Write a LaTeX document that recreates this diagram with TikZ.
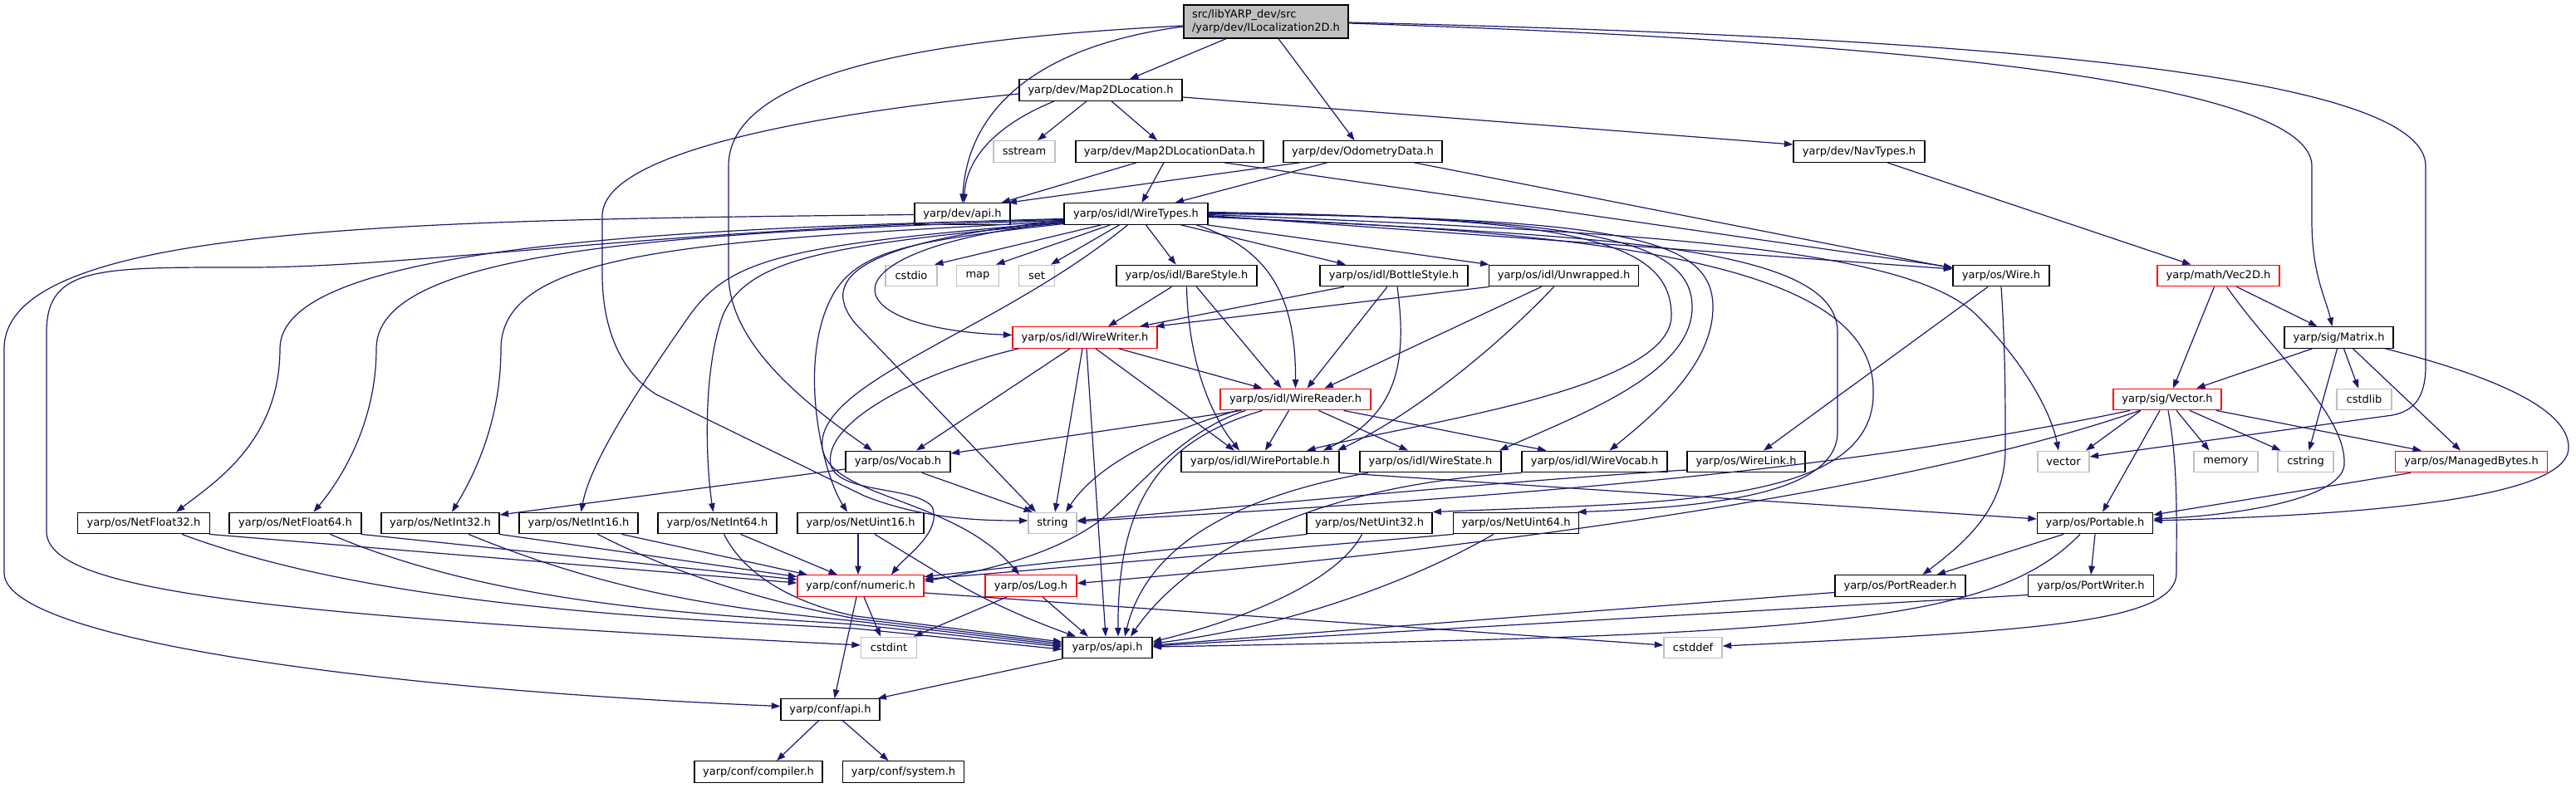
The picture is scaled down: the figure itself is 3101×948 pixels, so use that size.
\documentclass[tikz,border=0pt]{standalone}
\usepackage{fontspec}
\setmainfont{DejaVu Sans}
\usetikzlibrary{arrows.meta}
\definecolor{edgecol}{HTML}{191970}
\definecolor{sysgray}{HTML}{BFBFBF}
\tikzset{
  nd/.style={draw=black, fill=white, line width=1.3pt, minimum height=25.5pt, inner sep=0pt,
    font=\fontsize{13pt}{15.6pt}\selectfont, anchor=center},
  sys/.style={nd, draw=sysgray},
  trunc/.style={nd, draw=red},
  ed/.style={draw=edgecol, line width=1.2pt, -{Triangle[length=10.5pt,width=7.5pt]}},
}
\begin{document}
\begin{tikzpicture}[x=1pt,y=-1pt]
\useasboundingbox (0,0) rectangle (3101,948);
% ---------- nodes ----------
\node[nd, fill=sysgray, minimum width=198pt, minimum height=40pt, align=left] (main) at (1524,26) {src/libYARP\_dev/src\\/yarp/dev/ILocalization2D.h};
\node[nd, minimum width=196pt] (m2dl) at (1325,108.5) {yarp/dev/Map2DLocation.h};
\node[sys, minimum width=74pt] (sstream) at (1233,182.5) {sstream};
\node[nd, minimum width=226pt] (m2dld) at (1408,182.5) {yarp/dev/Map2DLocationData.h};
\node[nd, minimum width=191pt] (odom) at (1640.5,182.5) {yarp/dev/OdometryData.h};
\node[nd, minimum width=158pt] (navtypes) at (2238,182.5) {yarp/dev/NavTypes.h};
\node[nd, minimum width=115pt] (devapi) at (1158.5,257.5) {yarp/dev/api.h};
\node[nd, minimum width=173pt] (wiretypes) at (1367.5,257.5) {yarp/os/idl/WireTypes.h};
\node[sys, minimum width=62pt] (cstdio) at (1097,332) {cstdio};
\node[sys, minimum width=51pt] (map) at (1177,332) {map};
\node[sys, minimum width=43pt] (set) at (1248,332) {set};
\node[nd, minimum width=169pt] (barestyle) at (1428.5,332) {yarp/os/idl/BareStyle.h};
\node[nd, minimum width=178pt] (bottlestyle) at (1678,332) {yarp/os/idl/BottleStyle.h};
\node[nd, minimum width=180pt] (unwrapped) at (1882.5,332) {yarp/os/idl/Unwrapped.h};
\node[nd, minimum width=116pt] (wire) at (2409,332) {yarp/os/Wire.h};
\node[trunc, minimum width=147pt] (vec2d) at (2670.5,332) {yarp/math/Vec2D.h};
\node[trunc, minimum width=174pt] (wirewriter) at (1306,406.5) {yarp/os/idl/WireWriter.h};
\node[nd, minimum width=131pt] (matrix) at (2815.5,406.5) {yarp/sig/Matrix.h};
\node[trunc, minimum width=181pt] (wirereader) at (1559.5,481) {yarp/os/idl/WireReader.h};
\node[trunc, minimum width=130pt] (vector) at (2609,481) {yarp/sig/Vector.h};
\node[sys, minimum width=66pt] (cstdlib) at (2846,481) {cstdlib};
\node[nd, minimum width=126pt] (vocab) at (1081,556) {yarp/os/Vocab.h};
\node[nd, minimum width=190pt] (wireportable) at (1517,556) {yarp/os/idl/WirePortable.h};
\node[nd, minimum width=170pt] (wirestate) at (1722,556) {yarp/os/idl/WireState.h};
\node[nd, minimum width=175pt] (wirevocab) at (1919.5,556) {yarp/os/idl/WireVocab.h};
\node[nd, minimum width=142pt] (wirelink) at (2102,556) {yarp/os/WireLink.h};
\node[sys, minimum width=62pt] (vectorstd) at (2484,556) {vector};
\node[sys, minimum width=77pt] (memory) at (2679.5,556) {memory};
\node[sys, minimum width=67pt] (cstring) at (2775.5,556) {cstring};
\node[trunc, minimum width=183pt] (managedbytes) at (2975,556) {yarp/os/ManagedBytes.h};
\node[nd, minimum width=159pt] (netfloat32) at (173,630) {yarp/os/NetFloat32.h};
\node[nd, minimum width=159pt] (netfloat64) at (355.5,630) {yarp/os/NetFloat64.h};
\node[nd, minimum width=142pt] (netint32) at (530,630) {yarp/os/NetInt32.h};
\node[nd, minimum width=143pt] (netint16) at (696.5,630) {yarp/os/NetInt16.h};
\node[nd, minimum width=143pt] (netint64) at (863.5,630) {yarp/os/NetInt64.h};
\node[nd, minimum width=152pt] (netuint16) at (1036,630) {yarp/os/NetUint16.h};
\node[sys, minimum width=58pt] (string) at (1267,630) {string};
\node[nd, minimum width=151pt] (netuint32) at (1648.5,630) {yarp/os/NetUint32.h};
\node[nd, minimum width=151pt] (netuint64) at (1825,630) {yarp/os/NetUint64.h};
\node[nd, minimum width=139pt] (portable) at (2522,630) {yarp/os/Portable.h};
\node[trunc, minimum width=152pt] (numeric) at (1036,705.5) {yarp/conf/numeric.h};
\node[trunc, minimum width=110pt] (log) at (1241,705.5) {yarp/os/Log.h};
\node[nd, minimum width=157pt] (portreader) at (2287.5,705.5) {yarp/os/PortReader.h};
\node[nd, minimum width=151pt] (portwriter) at (2517,705.5) {yarp/os/PortWriter.h};
\node[sys, minimum width=67pt] (cstdint) at (1070,780) {cstdint};
\node[nd, minimum width=108pt] (osapi) at (1333,780) {yarp/os/api.h};
\node[sys, minimum width=70pt] (cstddef) at (2038,780) {cstddef};
\node[nd, minimum width=119pt] (confapi) at (999.5,854.5) {yarp/conf/api.h};
\node[nd, minimum width=154pt] (compiler) at (913,929.5) {yarp/conf/compiler.h};
\node[nd, minimum width=146pt] (system) at (1087.5,929.5) {yarp/conf/system.h};
% ---------- edges: main ----------
\draw[ed] ([xshift=-48pt]main.south) -- ([xshift=35pt]m2dl.north);
\draw[ed] ([xshift=15pt]main.south) -- ([xshift=-10pt]odom.north);
\draw[ed] ([yshift=-6pt]main.west) .. controls (1250,55) and (1165,130) .. (devapi.north);
\draw[ed] ([yshift=-5pt]main.west) .. controls (1150,45) and (877,80) .. (877,200) -- (877,330) .. controls (877,410) and (960,480) .. ([xshift=-31pt]vocab.north);
\draw[ed] ([yshift=-2pt]main.east) .. controls (2300,50) and (2783,100) .. (2783,200) -- (2783,267) .. controls (2783,330) and (2800,360) .. ([xshift=-8pt]matrix.north);
\draw[ed] ([yshift=-1pt]main.east) .. controls (2400,45) and (2920,90) .. (2920,200) -- (2920,440) .. controls (2920,480) and (2905,495) .. (2880,500) -- ([yshift=6pt]vectorstd.east);
% ---------- Map2DLocation ----------
\draw[ed] ([xshift=-17pt]m2dl.south) -- ([xshift=16pt]sstream.north);
\draw[ed] ([xshift=13pt]m2dl.south) -- ([xshift=-15pt]m2dld.north);
\draw[ed] ([xshift=-56pt]m2dl.south) .. controls (1200,150) and (1163,190) .. ([xshift=2pt]devapi.north);
\draw[ed] ([yshift=-8.5pt]m2dl.east) -- ([yshift=8.5pt]navtypes.west);
\draw[ed] ([yshift=-4.5pt]m2dl.west) .. controls (1000,135) and (725,180) .. (725,260) -- (725,330) .. controls (725,400) and (750,450) .. (790,475) -- (1040,597) .. controls (1110,625) and (1180,627) .. ([yshift=3pt]string.west);
% ---------- Map2DLocationData / Odometry / NavTypes ----------
\draw[ed] ([xshift=-40pt]m2dld.south) -- ([xshift=47pt]devapi.north);
\draw[ed] ([xshift=-7pt]m2dld.south) -- ([xshift=7pt]wiretypes.north);
\draw[ed] ([xshift=66pt]m2dld.south) -- ([yshift=10pt]wire.west);
\draw[ed] ([xshift=-76pt]odom.south) -- ([xshift=55pt]devapi.north);
\draw[ed] ([xshift=-43pt]odom.south) -- ([xshift=47pt]wiretypes.north);
\draw[ed] ([xshift=62pt]odom.south) -- ([yshift=9pt]wire.west);
\draw[ed] ([xshift=34pt]navtypes.south) -- ([xshift=-33pt]vec2d.north);
% ---------- Vec2D / Matrix / Vector ----------
\draw[ed] ([xshift=-5pt]vec2d.south) -- ([xshift=7pt]vector.north);
\draw[ed] ([xshift=22pt]vec2d.south) -- ([xshift=-26pt]matrix.north);
\draw[ed] ([xshift=10pt]vec2d.south) .. controls (2740,430) and (2825,500) .. (2822,560) .. controls (2818,600) and (2700,620) .. ([yshift=5pt]portable.east);
\draw[ed] ([xshift=-32pt]matrix.south) -- ([xshift=35pt]vector.north);
\draw[ed] ([xshift=6pt]matrix.south) -- ([xshift=-7pt]cstdlib.north);
\draw[ed] ([xshift=-2pt]matrix.south) -- ([xshift=4pt]cstring.north);
\draw[ed] ([xshift=17pt]matrix.south) -- ([xshift=-13pt]managedbytes.north);
\draw[ed] ([xshift=56pt]matrix.south) .. controls (2990,450) and (3094,490) .. (3092,540) .. controls (3090,600) and (2850,620) .. ([yshift=3pt]portable.east);
\draw[ed] ([xshift=-32pt]vector.south) -- ([xshift=27pt]vectorstd.north);
\draw[ed] ([xshift=11pt]vector.south) -- ([xshift=-20pt]memory.north);
\draw[ed] ([xshift=27pt]vector.south) -- ([xshift=-30pt]cstring.north);
\draw[ed] ([xshift=59pt]vector.south) -- ([xshift=-60pt]managedbytes.north);
\draw[ed] ([xshift=-9pt]vector.south) -- ([xshift=9pt]portable.north);
\draw[ed] ([xshift=1pt]vector.south) .. controls (2622,560) and (2620,620) .. (2620,690) .. controls (2620,750) and (2450,760) .. ([yshift=2pt]cstddef.east);
\draw[ed] ([xshift=-45pt]vector.south) .. controls (2250,560) and (1900,595) .. ([yshift=2pt]string.east);
\draw[ed] ([xshift=-33pt]vector.south) .. controls (2300,590) and (1800,660) .. ([yshift=3pt]log.east);
\draw[ed] ([xshift=-73pt]managedbytes.south) -- ([yshift=10pt]portable.east);
% ---------- Wire / WireLink ----------
\draw[ed] ([xshift=-16pt]wire.south) -- ([xshift=21pt]wirelink.north);
\draw[ed] (wire.south) .. controls (2414,420) and (2414,480) .. (2414,540) .. controls (2414,610) and (2370,650) .. ([xshift=27pt]portreader.north);
\draw[ed] ([yshift=-10pt]wirelink.west) .. controls (1800,580) and (1500,610) .. ([yshift=3pt]string.east);
% ---------- WireState / WireVocab / WirePortable ----------
\draw[ed] ([xshift=-75pt]wirestate.south) .. controls (1480,600) and (1380,660) .. ([xshift=21pt]osapi.north);
\draw[ed] ([xshift=-88pt]wirevocab.south) .. controls (1560,585) and (1420,680) .. ([xshift=28pt]osapi.north);
\draw[ed] ([xshift=95pt]wireportable.south) -- ([yshift=5pt]portable.west);
% ---------- WireReader ----------
\draw[ed] ([xshift=-40pt]wirereader.south) .. controls (1400,530) and (1345,600) .. ([xshift=13pt]osapi.north);
\draw[ed] ([xshift=-65pt]wirereader.south) -- ([yshift=10pt]vocab.east);
\draw[ed] ([xshift=-70pt]wirereader.south) .. controls (1400,520) and (1320,560) .. ([xshift=16pt]string.north);
\draw[ed] ([xshift=-60pt]wirereader.south) .. controls (1420,520) and (1370,590) .. (1320,630) .. controls (1270,665) and (1200,685) .. ([yshift=5.5pt]numeric.east);
\draw[ed] ([xshift=-8pt]wirereader.south) -- ([xshift=6pt]wireportable.north);
\draw[ed] ([xshift=28pt]wirereader.south) -- ([xshift=-27pt]wirestate.north);
\draw[ed] ([xshift=58pt]wirereader.south) -- ([xshift=-58pt]wirevocab.north);
% ---------- WireWriter ----------
\draw[ed] ([xshift=-18pt]wirewriter.south) -- ([xshift=22pt]vocab.north);
\draw[ed] ([xshift=-3pt]wirewriter.south) -- ([xshift=3pt]string.north);
\draw[ed] ([xshift=2pt]wirewriter.south) -- ([xshift=-2pt]osapi.north);
\draw[ed] ([xshift=13pt]wirewriter.south) -- ([xshift=-31pt]wireportable.north);
\draw[ed] ([xshift=41pt]wirewriter.south) -- ([xshift=-40pt]wirereader.north);
\draw[ed] ([xshift=-80pt]wirewriter.south) .. controls (1100,450) and (990,510) .. (1000,560) .. controls (1010,595) and (1100,585) .. (1122,610) .. controls (1135,640) and (1090,670) .. ([xshift=37pt]numeric.north);
% ---------- WireTypes ----------
\draw[ed] ([xshift=-42pt]wiretypes.south) -- ([xshift=28pt]cstdio.north);
\draw[ed] ([xshift=-31pt]wiretypes.south) -- ([xshift=22pt]map.north);
\draw[ed] ([xshift=-20pt]wiretypes.south) -- ([xshift=17pt]set.north);
\draw[ed] ([xshift=12pt]wiretypes.south) -- ([xshift=-13pt]barestyle.north);
\draw[ed] ([xshift=54pt]wiretypes.south) -- ([xshift=-58pt]bottlestyle.north);
\draw[ed] ([xshift=86pt]wiretypes.south) -- ([xshift=-90pt]unwrapped.north);
\draw[ed] ([yshift=-10pt]wiretypes.west) .. controls (980,300) and (1000,395) .. ([yshift=3pt]wirewriter.west);
\draw[ed] ([xshift=73pt]wiretypes.south) .. controls (1530,300) and (1560,360) .. (wirereader.north);
\draw[ed] ([yshift=-8pt]wiretypes.west) .. controls (1050,290) and (980,330) .. (1030,390) -- ([xshift=-20pt]string.north);
\draw[ed] ([yshift=-6pt]wiretypes.west) .. controls (800,275) and (500,322) .. (300,322) .. controls (120,322) and (56,320) .. (56,400) -- (56,640) .. controls (56,710) and (300,740) .. ([yshift=3pt]cstdint.west);
\draw[ed] ([yshift=-7pt]wiretypes.west) .. controls (700,275) and (337,310) .. (337,420) .. controls (337,530) and (260,580) .. ([xshift=39pt]netfloat32.north);
\draw[ed] ([yshift=-8pt]wiretypes.west) .. controls (750,280) and (453,310) .. (453,420) .. controls (453,520) and (400,590) .. ([xshift=22pt]netfloat64.north);
\draw[ed] ([yshift=-9pt]wiretypes.west) .. controls (850,290) and (603,300) .. (603,420) .. controls (603,520) and (560,590) .. ([xshift=14pt]netint32.north);
\draw[ed] ([yshift=-10pt]wiretypes.west) .. controls (950,295) and (880,310) .. (830,380) .. controls (760,480) and (710,560) .. ([xshift=3pt]netint16.north);
\draw[ed] ([yshift=-11pt]wiretypes.west) .. controls (1000,295) and (900,310) .. (870,380) .. controls (845,450) and (850,560) .. ([xshift=-5pt]netint64.north);
\draw[ed] ([yshift=-12pt]wiretypes.west) .. controls (1100,290) and (1030,300) .. (1000,360) .. controls (960,440) and (990,570) .. ([xshift=-16pt]netuint16.north);
\draw[ed] ([xshift=-10pt]wiretypes.south) .. controls (1200,400) and (980,460) .. (990,540) .. controls (1000,600) and (1150,600) .. ([xshift=-14pt]log.north);
\draw[ed] ([yshift=2pt]wiretypes.east) .. controls (1880,262) and (2012,285) .. (2012,380) .. controls (2012,470) and (1700,510) .. ([xshift=56pt]wireportable.north);
\draw[ed] ([yshift=1pt]wiretypes.east) .. controls (1900,262) and (2037,285) .. (2037,370) .. controls (2037,450) and (1900,500) .. ([xshift=83pt]wirestate.north);
\draw[ed] (wiretypes.east) .. controls (1950,262) and (2062,285) .. (2062,370) .. controls (2062,440) and (1990,500) .. ([xshift=18pt]wirevocab.north);
\draw[ed] ([yshift=-2pt]wiretypes.east) -- ([yshift=8pt]wire.west);
\draw[ed] ([yshift=-1pt]wiretypes.east) .. controls (2000,280) and (2300,300) .. (2380,380) .. controls (2440,440) and (2470,500) .. ([xshift=-6pt]vectorstd.north);
\draw[ed] ([yshift=-3pt]wiretypes.east) .. controls (1900,285) and (2212,290) .. (2212,400) -- (2212,520) .. controls (2212,590) and (2080,610) .. ([xshift=74pt]netuint64.north);
\draw[ed] ([yshift=-4pt]wiretypes.east) .. controls (1950,280) and (2255,320) .. (2255,470) .. controls (2260,610) and (2000,605) .. ([xshift=76pt]netuint32.north);
% ---------- BareStyle / BottleStyle / Unwrapped ----------
\draw[ed] ([xshift=-18pt]barestyle.south) -- ([xshift=28pt]wirewriter.north);
\draw[ed] ([xshift=12pt]barestyle.south) -- ([xshift=-17pt]wirereader.north);
\draw[ed] (barestyle.south) .. controls (1430,420) and (1450,490) .. ([xshift=-25pt]wireportable.north);
\draw[ed] ([xshift=-60pt]bottlestyle.south) -- ([xshift=66pt]wirewriter.north);
\draw[ed] ([xshift=-8pt]bottlestyle.south) -- ([xshift=14pt]wirereader.north);
\draw[ed] ([xshift=4pt]bottlestyle.south) .. controls (1695,440) and (1680,500) .. ([xshift=76pt]wireportable.north);
\draw[ed] ([xshift=-90pt]unwrapped.south) -- ([xshift=85pt]wirewriter.north);
\draw[ed] ([xshift=-27pt]unwrapped.south) -- ([xshift=35pt]wirereader.north);
\draw[ed] ([xshift=-12pt]unwrapped.south) .. controls (1800,420) and (1700,500) .. ([xshift=93pt]wireportable.north);
% ---------- Vocab ----------
\draw[ed] ([xshift=29pt]vocab.south) -- ([xshift=-24pt]string.north);
\draw[ed] ([yshift=-9pt]vocab.west) -- ([yshift=10pt]netint32.east);
% ---------- Net* ----------
\draw[ed] ([xshift=79pt]netfloat32.south) -- ([yshift=3.5pt]numeric.west);
\draw[ed] ([xshift=46pt]netfloat32.south) .. controls (450,730) and (800,745) .. (1030,757) -- ([yshift=-2pt]osapi.west);
\draw[ed] ([xshift=79pt]netfloat64.south) -- ([yshift=7.5pt]numeric.west);
\draw[ed] ([xshift=42pt]netfloat64.south) .. controls (600,730) and (850,740) .. (1030,752) -- ([yshift=1pt]osapi.west);
\draw[ed] ([xshift=71pt]netint32.south) -- ([yshift=11pt]numeric.west);
\draw[ed] ([xshift=34pt]netint32.south) .. controls (750,720) and (900,735) .. (1030,748) -- ([yshift=3pt]osapi.west);
\draw[ed] ([xshift=52pt]netint16.south) -- ([xshift=-64pt]numeric.north);
\draw[ed] ([xshift=23pt]netint16.south) .. controls (830,700) and (950,730) .. (1030,745) -- ([yshift=5pt]osapi.west);
\draw[ed] ([xshift=28pt]netint64.south) -- ([xshift=-28pt]numeric.north);
\draw[ed] ([xshift=8pt]netint64.south) .. controls (900,700) and (970,730) .. (1030,742) -- ([yshift=7pt]osapi.west);
\draw[ed] ([xshift=-3pt]netuint16.south) -- ([xshift=-3pt]numeric.north);
\draw[ed] ([xshift=17pt]netuint16.south) .. controls (1130,690) and (1180,725) .. ([xshift=-38pt]osapi.north);
\draw[ed] ([xshift=-75pt]netuint32.south) -- ([yshift=11pt]numeric.east);
\draw[ed] ([xshift=-9pt]netuint32.south) .. controls (1610,700) and (1500,745) .. ([yshift=7pt]osapi.east);
\draw[ed] ([xshift=-75pt]netuint64.south) -- ([yshift=8pt]numeric.east);
\draw[ed] ([xshift=-27pt]netuint64.south) .. controls (1700,700) and (1550,755) .. ([yshift=5pt]osapi.east);
% ---------- numeric / Log / api ----------
\draw[ed] ([xshift=4pt]numeric.south) -- ([xshift=-10pt]cstdint.north);
\draw[ed] ([xshift=-5pt]numeric.south) -- ([xshift=5pt]confapi.north);
\draw[ed] ([yshift=-8.5pt]numeric.east) -- ([yshift=3pt]cstddef.west);
\draw[ed] ([xshift=-29pt]log.south) -- ([xshift=30pt]cstdint.north);
\draw[ed] ([xshift=14pt]log.south) -- ([xshift=-23pt]osapi.north);
\draw[ed] ([xshift=-54pt]osapi.south) -- ([xshift=57pt]confapi.north);
\draw[ed] ([xshift=-14pt]confapi.south) -- ([xshift=22pt]compiler.north);
\draw[ed] ([xshift=15pt]confapi.south) -- ([xshift=-18pt]system.north);
\draw[ed] ([yshift=-1pt]devapi.west) .. controls (500,265) and (5,270) .. (5,420) -- (5,690) .. controls (5,770) and (450,830) .. ([yshift=4pt]confapi.west);
% ---------- Portable family ----------
\draw[ed] ([xshift=-38pt]portable.south) -- ([xshift=44pt]portreader.north);
\draw[ed] (portable.south) -- (portwriter.north);
\draw[ed] ([xshift=-18pt]portable.south) .. controls (2400,750) and (2200,765) .. ([yshift=1pt]osapi.east);
\draw[ed] ([yshift=-8pt]portreader.west) -- ([yshift=3pt]osapi.east);
\draw[ed] ([yshift=-11pt]portwriter.west) -- ([yshift=2pt]osapi.east);
\end{tikzpicture}
\end{document}
